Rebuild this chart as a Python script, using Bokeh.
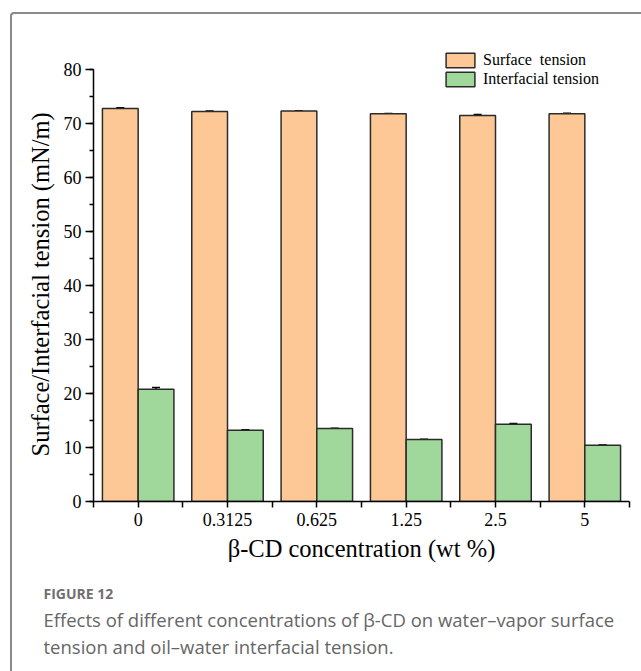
from bokeh.plotting import figure
from bokeh.models import (ColumnDataSource, FixedTicker, SingleIntervalTicker, Legend,
                          LegendItem, Whisker, Title, Range1d, TeeHead)
from bokeh.transform import dodge
from bokeh.embed import file_html
from bokeh.resources import INLINE

# ---- data ----
concentrations = ["0", "0.3125", "0.625", "1.25", "2.5", "5"]
surface_tension = [72.8, 72.2, 72.3, 71.8, 71.5, 71.8]
surface_err = [0.1, 0.1, 0.05, 0.05, 0.15, 0.1]
interfacial_tension = [20.8, 13.2, 13.5, 11.5, 14.3, 10.4]
interfacial_err = [0.3, 0.1, 0.05, 0.05, 0.15, 0.05]
y_axis_max = 80
series_names = ["Surface  tension", "Interfacial tension"]
x_label = "\u03b2-CD concentration (wt %)"
y_label = "Surface/Interfacial tension (mN/m)"
caption_head = "FIGURE 12"
caption_lines = ["Effects of different concentrations of \u03b2-CD on water\u2013vapor surface",
                 "tension and oil\u2013water interfacial tension."]

orange = "#FDC896"
green = "#A0D89B"
edge = "#2b2b2b"
serif = "Liberation Serif"

n = len(concentrations)
centers = [i + 0.5 for i in range(n)]

src = ColumnDataSource(dict(
    x=centers,
    s=surface_tension,
    s_up=[v + e for v, e in zip(surface_tension, surface_err)],
    s_lo=[v - e for v, e in zip(surface_tension, surface_err)],
    f=interfacial_tension,
    f_up=[v + e for v, e in zip(interfacial_tension, interfacial_err)],
    f_lo=[v - e for v, e in zip(interfacial_tension, interfacial_err)],
))

frame_css = (":host { position: relative; }"
             ":host::after { content: ''; position: absolute; left: 10px; top: 12px;"
             " width: 631px; height: 659px; box-sizing: border-box;"
             " border-top: 2px solid #8a8a8a; border-left: 2px solid #8a8a8a;"
             " border-top-left-radius: 4px; pointer-events: none; }")

p = figure(width=641, height=671, output_backend="svg", toolbar_location=None,
           x_range=Range1d(0, n), y_range=Range1d(0, 85.37),
           min_border_left=93, min_border_right=12, min_border_top=40, min_border_bottom=170,
           stylesheets=[frame_css])
p.outline_line_color = None
p.background_fill_color = "white"
p.border_fill_color = "white"
p.xgrid.visible = False
p.ygrid.visible = False

bw = 0.4
r1 = p.vbar(x=dodge("x", -bw / 2, range=p.x_range), top="s", width=bw, source=src,
            fill_color=orange, line_color=edge, line_width=1.5)
r2 = p.vbar(x=dodge("x", bw / 2, range=p.x_range), top="f", width=bw, source=src,
            fill_color=green, line_color=edge, line_width=1.5)

for xoff, up, lo in [(-bw / 2, "s_up", "s_lo"), (bw / 2, "f_up", "f_lo")]:
    w = Whisker(base=dodge("x", xoff, range=p.x_range), upper=up, lower=lo, source=src,
                line_color="black", line_width=1.5,
                upper_head=TeeHead(size=8, line_width=1.5, line_color="black"),
                lower_head=TeeHead(size=8, line_width=1.5, line_color="black"))
    p.add_layout(w)

# x axis
xa = p.xaxis[0]
xa.ticker = FixedTicker(ticks=centers, minor_ticks=list(range(n + 1)))
xa.major_label_overrides = {c: lab for c, lab in zip(centers, concentrations)}
xa.bounds = (0, n)
xa.axis_label = x_label
xa.axis_label_text_font = serif
xa.axis_label_text_font_size = "24.5px"
xa.axis_label_text_font_style = "normal"
xa.axis_label_text_color = "black"
xa.axis_label_standoff = 6
xa.major_label_text_font = serif
xa.major_label_text_font_size = "18px"
xa.major_label_text_color = "black"
xa.major_label_standoff = 5
xa.axis_line_width = 1.5
xa.axis_line_color = "black"
xa.major_tick_in = 0
xa.major_tick_out = 6
xa.minor_tick_in = 0
xa.minor_tick_out = 6
xa.major_tick_line_width = 1.5
xa.minor_tick_line_width = 1.5
xa.major_tick_line_color = "black"
xa.minor_tick_line_color = "black"

# y axis (its title is placed as a left-side Title so it can sit along the 0-80 span)
ya = p.yaxis[0]
ya.ticker = SingleIntervalTicker(interval=10, num_minor_ticks=2)
ya.bounds = (0, y_axis_max)
ya.major_label_text_font = serif
ya.major_label_text_font_size = "18px"
ya.major_label_text_color = "black"
ya.major_label_standoff = 4
ya.axis_line_width = 1.5
ya.axis_line_color = "black"
ya.major_tick_in = 0
ya.major_tick_out = 8
ya.minor_tick_in = 0
ya.minor_tick_out = 4
ya.major_tick_line_width = 1.5
ya.minor_tick_line_width = 1.5
ya.major_tick_line_color = "black"
ya.minor_tick_line_color = "black"

p.add_layout(Title(text=y_label, align="left", offset=45, standoff=14,
                   text_font=serif, text_font_size="24.5px", text_font_style="normal",
                   text_color="black"), "left")

legend = Legend(items=[LegendItem(label=series_names[0], renderers=[r1]),
                       LegendItem(label=series_names[1], renderers=[r2])],
                location=(349, 413), padding=0, margin=0, spacing=1,
                glyph_width=36, glyph_height=18, label_height=18, label_standoff=5,
                label_text_font=serif, label_text_font_size="16px", label_text_color="black",
                background_fill_alpha=0, border_line_color=None)
p.add_layout(legend)

# caption as titles stacked below the x axis (first one is a thin spacer)
p.add_layout(Title(text=" ", align="left", offset=0, standoff=13,
                   text_font="Open Sans", text_font_size="1px", text_color="white"), "below")
p.add_layout(Title(text=caption_head, align="left", offset=-50, standoff=3,
                   text_font="Open Sans", text_font_size="14px", text_font_style="bold",
                   text_color="#707070"), "below")
for line in caption_lines:
    p.add_layout(Title(text=line, align="left", offset=-50, standoff=0,
                       text_font="Open Sans", text_font_size="18.5px", text_font_style="normal",
                       text_color="#666666"), "below")

open("out.html", "w").write(file_html(p, INLINE))
